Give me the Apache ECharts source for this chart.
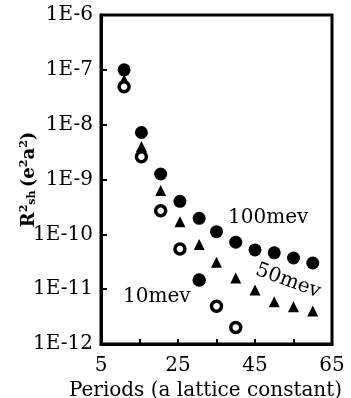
<!DOCTYPE html>
<html>
<head>
<meta charset="utf-8">
<script src="https://cdn.jsdelivr.net/npm/echarts@6/dist/echarts.min.js"></script>
<style>
  html, body { margin: 0; padding: 0; background: #fff; }
  #chart { width: 351px; height: 398px; }
</style>
</head>
<body>
<div id="chart"></div>
<script>
const chart = echarts.init(document.getElementById('chart'));

// periods (a lattice constant)
const periods = [11, 15.5, 20.5, 25.5, 30.5, 35, 40, 45, 50, 55, 60];
// R^2_sh values
const r100 = [1.0e-7, 7.2e-9, 1.26e-9, 4.0e-10, 1.96e-10, 1.12e-10, 7.2e-11, 5.2e-11, 4.6e-11, 3.7e-11, 3.0e-11];
const r50 = [6.6e-8, 4.0e-9, 6.3e-10, 1.7e-10, 6.5e-11, 3.1e-11, 1.6e-11, 9.7e-12, 5.9e-12, 4.8e-12, 4.0e-12];
const r10 = [4.9e-8, 2.6e-9, 2.7e-10, 5.4e-11, 1.47e-11, 4.9e-12, 2.0e-12];
const xLabels = [5, 25, 45, 65];

const font = 'DejaVu Serif';
const pairs = (ys) => ys.map((y, i) => [periods[i], y]);

const data10 = pairs(r10);
// the point at 30.5 is printed solid in the original
data10[4] = { value: data10[4], itemStyle: { color: '#000' } };

const option = {
  animation: false,
  grid: {
    left: 101, right: 19, top: 15, bottom: 54,
    outerBoundsMode: 'none',
    show: true, borderColor: '#000', borderWidth: 3
  },
  xAxis: {
    type: 'value',
    min: 5, max: 65, interval: 10,
    name: 'Periods (a lattice constant)',
    nameLocation: 'middle',
    nameGap: 34,
    nameTextStyle: { fontFamily: font, fontSize: 20, color: '#000', padding: [0, 22, 0, 0] },
    axisLine: { lineStyle: { color: '#000', width: 3 } },
    axisTick: { inside: true, length: 5, lineStyle: { color: '#000', width: 2 } },
    splitLine: { show: false },
    axisLabel: {
      fontFamily: font, fontSize: 20, color: '#000', margin: 12,
      formatter: v => (xLabels.includes(v) ? String(v) : '')
    }
  },
  yAxis: {
    type: 'log', logBase: 10,
    min: 1e-12, max: 1e-6,
    name: '{t|R}{s|2}{b|sh} {t|(e}{s|2}{t|a}{s|2}{t|)}',
    nameLocation: 'middle',
    nameGap: 62,
    nameRotate: 90,
    nameMoveOverlap: false,
    nameTextStyle: {
      color: '#000',
      padding: [0, 0, 0, 0],
      rich: {
        t: { fontFamily: font, fontSize: 18, color: '#000', fontWeight: 'bold' },
        s: { fontFamily: font, fontSize: 11, color: '#000', fontWeight: 'bold', verticalAlign: 'top', padding: [0, 0, 9, 0] },
        b: { fontFamily: font, fontSize: 11, color: '#000', fontWeight: 'bold', padding: [7, 0, 0, 0] }
      }
    },
    axisLine: { show: true, lineStyle: { color: '#000', width: 3 } },
    axisTick: { inside: true, length: 6, lineStyle: { color: '#000', width: 2 } },
    splitLine: { show: false },
    axisLabel: {
      fontFamily: font, fontSize: 20, color: '#000', margin: 8,
      formatter: v => '1E' + Math.round(Math.log10(v))
    }
  },
  series: [
    {
      name: '100mev', type: 'scatter', symbol: 'circle', symbolSize: 13,
      itemStyle: { color: '#000', opacity: 1 },
      emphasis: { disabled: true },
      data: pairs(r100), z: 3
    },
    {
      name: '50mev', type: 'scatter', symbol: 'triangle', symbolSize: 11,
      itemStyle: { color: '#000', opacity: 1 },
      emphasis: { disabled: true },
      data: pairs(r50), z: 4
    },
    {
      name: '10mev', type: 'scatter', symbol: 'circle', symbolSize: 10,
      itemStyle: { color: '#fff', borderColor: '#000', borderWidth: 3.5, opacity: 1 },
      emphasis: { disabled: true },
      data: data10, z: 5
    }
  ],
  graphic: [
    { type: 'text', left: 228, top: 208, style: { text: '100mev', fontFamily: font, fontSize: 20, fill: '#000' } },
    { type: 'text', x: 288, y: 281, rotation: -0.35,
      style: { text: '50mev', fontFamily: font, fontSize: 20, fill: '#000', align: 'center', verticalAlign: 'middle' } },
    { type: 'text', left: 123, top: 287, style: { text: '10mev', fontFamily: font, fontSize: 20, fill: '#000' } }
  ]
};

chart.setOption(option);
window.addEventListener('resize', function () { chart.resize(); });
</script>
</body>
</html>
